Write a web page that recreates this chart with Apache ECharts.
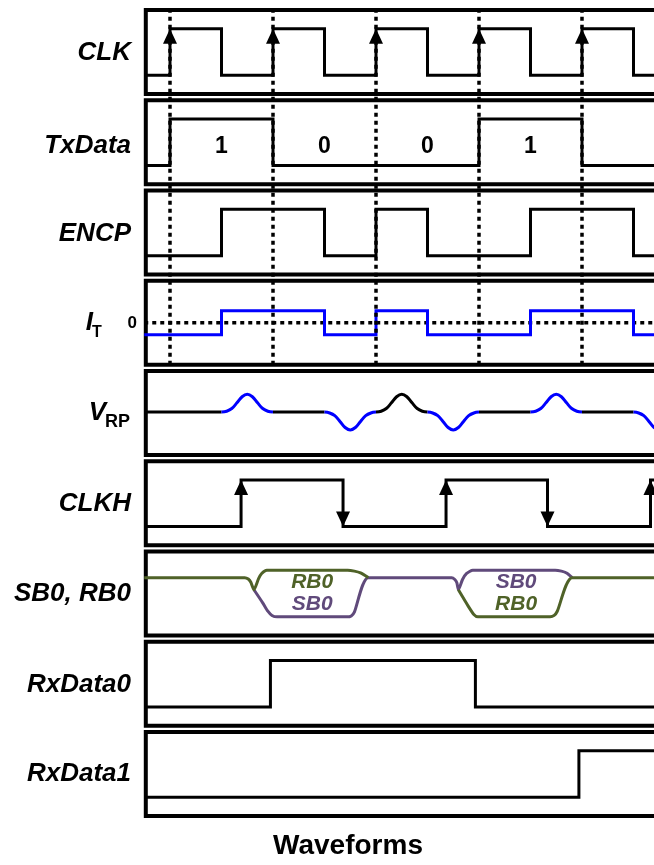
<!DOCTYPE html>
<html><head><meta charset="utf-8">
<script src="https://cdn.jsdelivr.net/npm/echarts@6/dist/echarts.min.js"></script>
<style>html,body{margin:0;padding:0;background:#fff}#c{width:654px;height:865px}</style>
</head><body><div id="c"></div>
<script>
// ---------------- data (time unit = half clock period) ----------------
const ROW_LABELS = ['CLK', 'TxData', 'ENCP', 'I_T', 'V_RP', 'CLKH', 'SB0, RB0', 'RxData0', 'RxData1'];
const CLK_EDGES = [1, 2, 3, 4, 5, 6, 7, 8, 9, 10];      // toggles, starts low
const CLK_UP_ARROWS = [1, 3, 5, 7, 9];
const CLK_DOTTED_T = [1, 3, 5, 7, 9];
const TX_EDGES = [1, 3, 7, 9];
const TX_BITS = ['1', '0', '0', '1'];
const TX_BIT_T = [2, 4, 6, 8];
const ENCP_EDGES = [2, 4, 5, 6, 8, 10];
const IT_EDGES = [2, 4, 5, 6, 8, 10];
const IT_LEVELS = [-1, 1];
const VRP_PULSE_T = [2, 4, 5, 6, 8, 10];
const VRP_PULSE_SIGN = [1, -1, 1, -1, 1, -1];
const VRP_PULSE_BLUE = [true, true, false, true, true, true];
const PULSE_SHAPE_DT = [0, 0.1, 0.2, 0.3, 0.4, 0.5, 0.6, 0.7, 0.8, 0.9, 1];
const PULSE_SHAPE_V = [0, 0.05, 0.2, 0.52, 0.86, 1, 0.86, 0.52, 0.2, 0.05, 0];
const CLKH_EDGES = [2.38, 4.36, 6.36, 8.33, 10.33];
const CLKH_UP = [2.38, 6.36, 10.33];
const CLKH_DOWN = [4.36, 8.33];
const SB_GREEN_A = [[0.5, 0.84], [2.45, 0.84], [2.52, 0.81], [2.57, 0.74], [2.63, 0.58], [2.72, 0.82], [2.78, 0.93], [2.88, 1.0], [4.45, 1.0], [4.58, 0.98], [4.7, 0.94], [4.85, 0.84]];
const SB_PURPLE_A = [[2.63, 0.58], [2.8, 0.3], [2.9, 0.12], [2.98, 0.03], [3.08, 0], [4.44, 0], [4.52, 0.02], [4.58, 0.1], [4.85, 0.84], [6.47, 0.84], [6.53, 0.8], [6.57, 0.73], [6.6, 0.58], [6.68, 0.8], [6.76, 0.93], [6.88, 1.0], [8.48, 1.0], [8.6, 0.98], [8.7, 0.94], [8.81, 0.84]];
const SB_GREEN_B = [[6.6, 0.58], [6.79, 0.23], [6.9, 0.05], [6.98, 0], [8.38, 0], [8.46, 0.03], [8.52, 0.12], [8.81, 0.84], [11.2, 0.84]];
const SB_LABEL_TEXT = ['RB0', 'SB0', 'SB0', 'RB0'];
const SB_LABEL_T = [3.76, 3.76, 7.72, 7.72];
const SB_LABEL_V = [0.74, 0.27, 0.74, 0.27];
const RX0_EDGES = [2.95, 6.93];
const RX1_EDGES = [8.94];
const TITLE = 'Waveforms';

// ---------------- layout / style ----------------
const T_START = 0.5, T_END = 11.2;
const X_MIN = 0.53, X_MAX = 11.0, PX = 51.5, X0 = 118.5;
const G_LEFT = X0 + X_MIN * PX, G_WIDTH = (X_MAX - X_MIN) * PX;
const TOP0 = 10, STEP = 90.25, H = 84;
const BLACK = '#000', BLUE = '#0000ff', GREEN = '#4f6228', PURPLE = '#604a7b';
const FONT = '"Liberation Sans", Arial, sans-serif';
const LW = 3;

const grids = [], xAxes = [], yAxes = [], series = [];
const yRange = [[-0.4, 1.4], [-0.4, 1.4], [-0.4, 1.4], [-3.5, 3.5], [-2.4, 2.3], [-0.4, 1.4], [-0.4, 1.4], [-0.4, 1.4], [-0.4, 1.4]];
for (let i = 0; i < 9; i++) {
  grids.push({left: G_LEFT, top: TOP0 + i * STEP, width: G_WIDTH, height: H, show: true,
    outerBoundsMode: 'none', containLabel: false,
    borderColor: BLACK, borderWidth: 4, backgroundColor: 'transparent'});
  xAxes.push({type: 'value', gridIndex: i, min: X_MIN, max: X_MAX, show: false});
  yAxes.push({type: 'value', gridIndex: i, min: yRange[i][0], max: yRange[i][1], show: false});
}
// overlay grid for dotted clock markers (panels 1-4)
grids.push({left: G_LEFT, top: TOP0, width: G_WIDTH, height: 3 * STEP + H, show: false,
  outerBoundsMode: 'none', containLabel: false});
xAxes.push({type: 'value', gridIndex: 9, min: X_MIN, max: X_MAX, show: false});
yAxes.push({type: 'value', gridIndex: 9, min: 0, max: 1, show: false});

function stepPts(edges, lo, hi) {
  let cur = lo; const pts = [[T_START, cur]];
  edges.forEach(e => { pts.push([e, cur]); cur = (cur === hi ? lo : hi); pts.push([e, cur]); });
  pts.push([T_END, cur]);
  return pts;
}
function line(idx, data, color, extra) {
  return Object.assign({type: 'line', xAxisIndex: idx, yAxisIndex: idx, data: data, symbol: 'none',
    showSymbol: false, silent: true, animation: false,
    lineStyle: {color: color, width: LW, join: 'miter'}}, extra || {});
}
function arrows(idx, ts, level, down) {
  return {type: 'scatter', xAxisIndex: idx, yAxisIndex: idx, silent: true, animation: false, z: 5,
    data: ts.map(t => [t, level]), symbol: 'triangle', symbolSize: [14, 15],
    symbolRotate: down ? 180 : 0, symbolOffset: [0, down ? '-50%' : '50%'],
    itemStyle: {color: BLACK, opacity: 1}};
}
function labels(idx, ts, vs, texts, colors, font) {
  return {type: 'scatter', xAxisIndex: idx, yAxisIndex: idx, silent: true, animation: false, z: 6,
    symbolSize: 0.1, itemStyle: {color: 'rgba(0,0,0,0)', opacity: 1},
    data: ts.map((t, k) => ({value: [t, vs[k]], name: texts[k],
      label: {color: colors[k]}})),
    label: Object.assign({show: true, position: 'inside', formatter: '{b}', fontFamily: FONT, opacity: 1}, font)};
}

// CLK
series.push(line(0, stepPts(CLK_EDGES, 0, 1), BLACK));
series.push(arrows(0, CLK_UP_ARROWS, 1, false));
// TxData
series.push(line(1, stepPts(TX_EDGES, 0, 1), BLACK));
series.push(labels(1, TX_BIT_T, TX_BIT_T.map(() => 0.4), TX_BITS, TX_BITS.map(() => BLACK),
  {fontSize: 23, fontWeight: 'bold'}));
// ENCP
series.push(line(2, stepPts(ENCP_EDGES, 0, 1), BLACK));
// I_T
series.push(line(3, [[T_START, 0], [T_END, 0]], BLACK, {lineStyle: {color: BLACK, width: 3.5, type: [4, 4]}}));
series.push(line(3, stepPts(IT_EDGES, IT_LEVELS[0], IT_LEVELS[1]), BLUE));
// V_RP
let cursor = T_START;
VRP_PULSE_T.forEach((t, i) => {
  series.push(line(4, [[cursor, 0], [t, 0]], BLACK));
  const pts = PULSE_SHAPE_DT.map((d, j) => [t + d, VRP_PULSE_SIGN[i] * PULSE_SHAPE_V[j]]);
  series.push(line(4, pts, VRP_PULSE_BLUE[i] ? BLUE : BLACK, {smooth: 0.4}));
  cursor = t + 1;
});
if (cursor < T_END) series.push(line(4, [[cursor, 0], [T_END, 0]], BLACK));
// CLKH
series.push(line(5, stepPts(CLKH_EDGES, 0, 1), BLACK));
series.push(arrows(5, CLKH_UP, 1, false));
series.push(arrows(5, CLKH_DOWN, 0, true));
// SB0, RB0
series.push(line(6, SB_PURPLE_A, PURPLE, {smooth: 0.2}));
series.push(line(6, SB_GREEN_A, GREEN, {smooth: 0.2}));
series.push(line(6, SB_GREEN_B, GREEN, {smooth: 0.2}));
series.push(labels(6, SB_LABEL_T, SB_LABEL_V, SB_LABEL_TEXT,
  SB_LABEL_TEXT.map(s => s === 'RB0' ? GREEN : PURPLE),
  {fontSize: 21, fontWeight: 'bold', fontStyle: 'italic'}));
// RxData0 / RxData1
series.push(line(7, stepPts(RX0_EDGES, 0, 1), BLACK));
series.push(line(8, stepPts(RX1_EDGES, 0, 1), BLACK));
// dotted clock markers
CLK_DOTTED_T.forEach(t => series.push(line(9, [[t, 0], [t, 1]], BLACK,
  {z: 10, lineStyle: {color: BLACK, width: 3.5, type: [4, 4]}})));

// ---------------- text (row labels, title) ----------------
const LX = 131;
function txt(text, x, y, font, align) {
  return {type: 'text', x: x, y: y, silent: true, z: 100,
    style: {text: text, font: font, fill: BLACK, textAlign: align || 'right', align: align || 'right',
      textVerticalAlign: 'middle', verticalAlign: 'middle'}};
}
const mainFont = 'italic bold 26px ' + FONT;
const graphics = [];
const rowOffset = [1, 4, 1, 0, 0, 1, 0, 1, 0];
ROW_LABELS.forEach((lab, i) => {
  const cy = TOP0 + i * STEP + H / 2 + rowOffset[i];
  if (lab === 'I_T') {
    graphics.push(txt('I', 93, cy, mainFont));
    graphics.push(txt('T', 92, cy + 10, 'bold 16px ' + FONT, 'left'));
    graphics.push(txt('0', 137, cy + 1, 'bold 17px ' + FONT));
  } else if (lab === 'V_RP') {
    graphics.push(txt('V', 106, cy, mainFont));
    graphics.push(txt('RP', 105, cy + 9, 'bold 18px ' + FONT, 'left'));
  } else {
    graphics.push(txt(lab, LX, cy, mainFont));
  }
});
graphics.push(txt(TITLE, 348, 846, 'bold 28px ' + FONT, 'center'));

const chart = echarts.init(document.getElementById('c'), null, {renderer: 'canvas'});
chart.setOption({animation: false, backgroundColor: '#fff', grid: grids, xAxis: xAxes, yAxis: yAxes,
  series: series, graphic: {elements: graphics}});
</script></body></html>
